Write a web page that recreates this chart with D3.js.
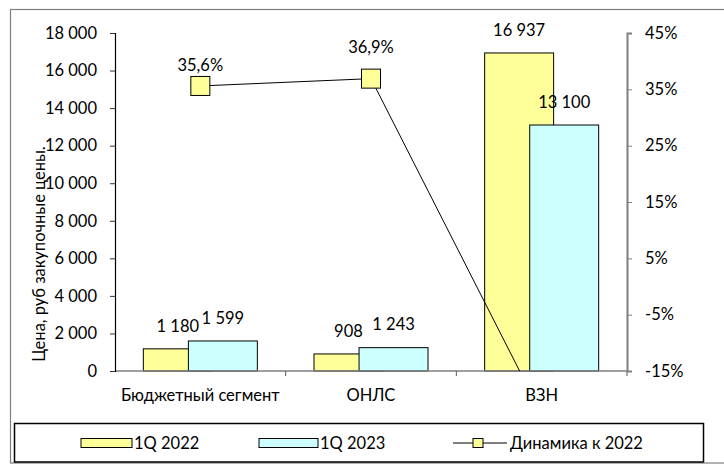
<!DOCTYPE html>
<html>
<head>
<meta charset="utf-8">
<script src="https://cdn.jsdelivr.net/npm/d3@7"></script>
<style>
  html, body { margin: 0; padding: 0; background: #fff; }
  svg { display: block; }
  text { font-family: Lato, "Open Sans", sans-serif; fill: #000; }
</style>
</head>
<body>
<svg id="chart" width="724" height="468"></svg>
<script>
// ---- data ----
const categories = ["Бюджетный сегмент", "ОНЛС", "ВЗН"];
const series2022 = [1180, 908, 16937];
const series2023 = [1599, 1243, 13100];
const dynamics = [35.6, 36.9, -22.7];
const leftTicks = [0, 2000, 4000, 6000, 8000, 10000, 12000, 14000, 16000, 18000];
const rightTicks = [-15, -5, 5, 15, 25, 35, 45];
const seriesNames = ["1Q 2022", "1Q 2023", "Динамика к 2022"];

// ---- layout ----
const plot = { left: 115, right: 627, top: 33, bottom: 371 };
const fontSize = 16.5;
const yellow = "#FFFF99", cyan = "#CCFFFF";
const lineLabelLift = [21, 31, 21];

const svg = d3.select("#chart");

const locale = d3.formatLocale({ decimal: ",", thousands: " ", grouping: [3], currency: ["", ""] });
const fmtInt = locale.format(",d");
const fmtPct = v => locale.format(".1f")(v) + "%";

// outer frame
svg.append("rect").attr("x", 10.5).attr("y", 9.5).attr("width", 730).attr("height", 453.5)
  .attr("fill", "none").attr("stroke", "#7f7f7f").attr("stroke-width", 1.2);

const x = d3.scaleBand().domain(categories).range([plot.left, plot.right]).padding(0);
const y = d3.scaleLinear().domain([0, 18000]).range([plot.bottom, plot.top]);
const y2 = d3.scaleLinear().domain([-15, 45]).range([plot.bottom, plot.top]);

const bw = x.bandwidth() * 0.404;
const off = x.bandwidth() * 0.132;

svg.append("clipPath").attr("id", "clip").append("rect")
  .attr("x", plot.left).attr("y", plot.top - 30)
  .attr("width", plot.right - plot.left).attr("height", plot.bottom - plot.top + 30);

// bars
const g = svg.append("g");
categories.forEach((c, i) => {
  const cx = x(c) + x.bandwidth() / 2;
  g.append("rect").attr("x", cx - off - bw / 2).attr("y", y(series2022[i]))
    .attr("width", bw).attr("height", y(0) - y(series2022[i]))
    .attr("fill", yellow).attr("stroke", "#000").attr("stroke-width", 1);
});
categories.forEach((c, i) => {
  const cx = x(c) + x.bandwidth() / 2;
  g.append("rect").attr("x", cx + off - bw / 2).attr("y", y(series2023[i]))
    .attr("width", bw).attr("height", y(0) - y(series2023[i]))
    .attr("fill", cyan).attr("stroke", "#000").attr("stroke-width", 1);
});

// bottom (category) axis
svg.append("line").attr("x1", plot.left).attr("x2", plot.right)
  .attr("y1", plot.bottom).attr("y2", plot.bottom).attr("stroke", "#7f7f7f").attr("stroke-width", 1.5);
categories.slice(1).map(c => x(c)).concat([plot.right]).forEach(px => {
  svg.append("line").attr("x1", px).attr("x2", px).attr("y1", plot.bottom).attr("y2", plot.bottom + 5)
    .attr("stroke", "#595959").attr("stroke-width", 1);
});
categories.forEach(c => {
  svg.append("text").attr("x", x(c) + x.bandwidth() / 2).attr("y", 395).attr("dy", "0.35em")
    .attr("text-anchor", "middle").attr("font-size", fontSize).text(c);
});

// left axis
const yAxis = d3.axisLeft(y).tickValues(leftTicks).tickFormat(fmtInt).tickSize(5).tickPadding(13);
const ga = svg.append("g").attr("transform", `translate(${plot.left},0)`).call(yAxis);
ga.attr("font-family", null).attr("font-size", null);
ga.select(".domain").attr("stroke", "#000").attr("stroke-width", 1.2);
ga.selectAll(".tick line").attr("stroke", "#333");
ga.selectAll(".tick text").attr("font-size", fontSize).attr("fill", "#000");

// right axis
const y2Axis = d3.axisRight(y2).tickValues(rightTicks).tickFormat(d => d + "%").tickSize(5).tickPadding(13);
const gb = svg.append("g").attr("transform", `translate(${plot.right},0)`).call(y2Axis);
gb.attr("font-family", null).attr("font-size", null);
gb.select(".domain").attr("stroke", "#7f7f7f").attr("stroke-width", 2);
gb.selectAll(".tick line").attr("stroke", "#7f7f7f");
gb.selectAll(".tick text").attr("font-size", fontSize).attr("fill", "#000");

// y title
svg.append("text").attr("transform", `translate(39,254) rotate(-90)`).attr("dy", "0.35em")
  .attr("text-anchor", "middle").attr("font-size", fontSize).text("Цена, руб закупочные цены.");

// bar labels
categories.forEach((c, i) => {
  const cx = x(c) + x.bandwidth() / 2;
  svg.append("text").attr("x", cx - off).attr("y", y(series2022[i]) - 23).attr("dy", "0.35em")
    .attr("text-anchor", "middle").attr("font-size", fontSize).text(fmtInt(series2022[i]));
  svg.append("text").attr("x", cx + off).attr("y", y(series2023[i]) - 23).attr("dy", "0.35em")
    .attr("text-anchor", "middle").attr("font-size", fontSize).text(fmtInt(series2023[i]));
});

// line
const lg = svg.append("g").attr("clip-path", "url(#clip)");
const line = d3.line().x((d, i) => x(categories[i]) + x.bandwidth() / 2).y(d => y2(d));
lg.append("path").datum(dynamics).attr("d", line).attr("fill", "none").attr("stroke", "#000").attr("stroke-width", 1);
const mk = 19;
dynamics.forEach((d, i) => {
  if (d < -15 || d > 45) return;
  const cx = x(categories[i]) + x.bandwidth() / 2;
  lg.append("rect").attr("x", cx - mk / 2).attr("y", y2(d) - mk / 2).attr("width", mk).attr("height", mk)
    .attr("fill", yellow).attr("stroke", "#000").attr("stroke-width", 1);
  svg.append("text").attr("x", cx).attr("y", y2(d) - lineLabelLift[i]).attr("dy", "0.35em")
    .attr("text-anchor", "middle").attr("font-size", fontSize).text(fmtPct(d));
});

// legend
svg.append("rect").attr("x", 14.5).attr("y", 423.5).attr("width", 689).attr("height", 38.5)
  .attr("fill", "none").attr("stroke", "#000").attr("stroke-width", 1.5);
const ly = 443;
svg.append("rect").attr("x", 81).attr("y", ly - 4.5).attr("width", 51).attr("height", 9)
  .attr("fill", yellow).attr("stroke", "#000");
svg.append("text").attr("x", 134).attr("y", ly).attr("dy", "0.35em").attr("font-size", fontSize).text(seriesNames[0]);
svg.append("rect").attr("x", 259).attr("y", ly - 4.5).attr("width", 59).attr("height", 9)
  .attr("fill", cyan).attr("stroke", "#000");
svg.append("text").attr("x", 320).attr("y", ly).attr("dy", "0.35em").attr("font-size", fontSize).text(seriesNames[1]);
svg.append("line").attr("x1", 453).attr("x2", 507).attr("y1", ly).attr("y2", ly).attr("stroke", "#000");
svg.append("rect").attr("x", 473).attr("y", ly - 4.5).attr("width", 10).attr("height", 9)
  .attr("fill", yellow).attr("stroke", "#000");
svg.append("text").attr("x", 510).attr("y", ly).attr("dy", "0.35em").attr("font-size", fontSize).text(seriesNames[2]);
</script>
</body>
</html>
